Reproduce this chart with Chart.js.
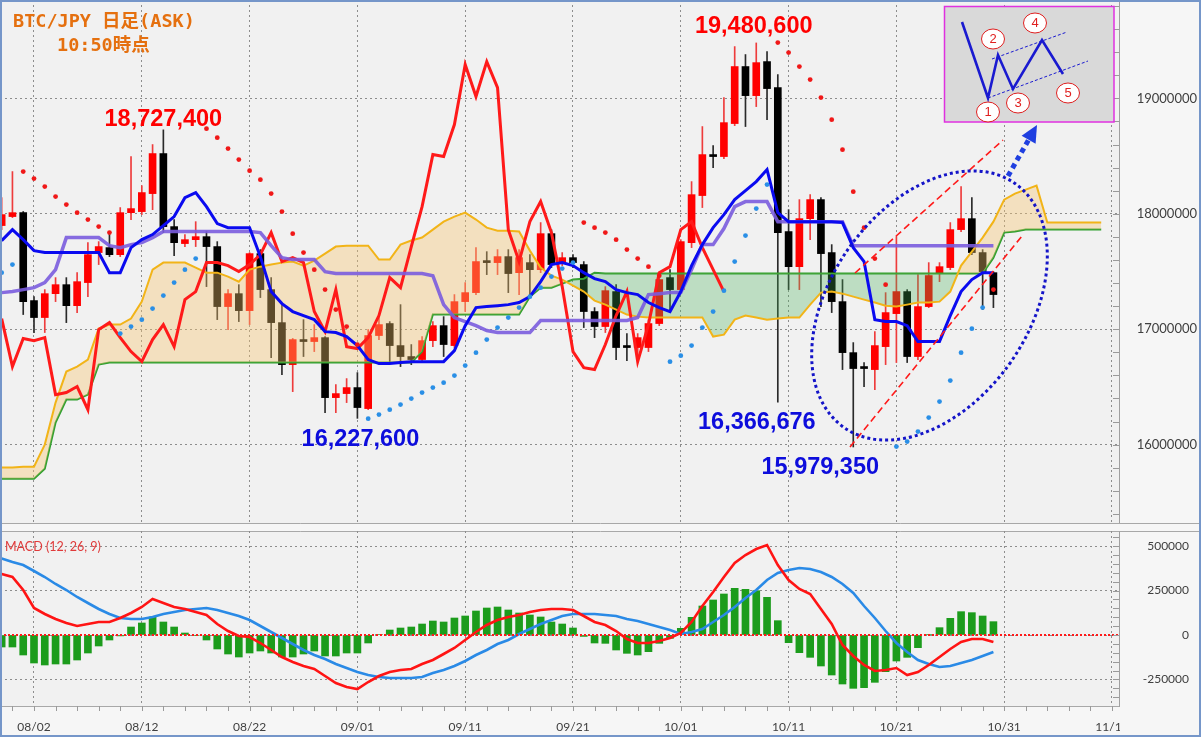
<!DOCTYPE html>
<html lang="ja">
<head>
<meta charset="utf-8">
<title>BTC/JPY 日足(ASK)</title>
<script src="https://cdn.jsdelivr.net/npm/chart.js@4.4.1/dist/chart.umd.min.js"></script>
<style>
  html, body { margin:0; padding:0; background:#f6f6f6; }
  #stage { position:relative; width:1201px; height:737px; overflow:hidden; background:#f6f6f6; }
  #mainCanvas { position:absolute; left:0; top:0; }
  #macdCanvas { position:absolute; left:0; top:531px; }
  #frame { position:absolute; left:0; top:0; width:1197px; height:733px; border:2px solid #7596c9; pointer-events:none; }
</style>
</head>
<body>
<div id="stage">
  <canvas id="mainCanvas" width="1201" height="524"></canvas>
  <canvas id="macdCanvas" width="1201" height="206"></canvas>
  <div id="frame"></div>
</div>
<script>
// ================= DATA =================
const YEAR = 2025;
const dates = [
 '07/30','07/31',
 '08/01','08/02','08/03','08/04','08/05','08/06','08/07','08/08','08/09','08/10','08/11','08/12','08/13','08/14','08/15','08/16',
 '08/17','08/18','08/19','08/20','08/21','08/22','08/23','08/24','08/25','08/26','08/27','08/28','08/29','08/30','08/31',
 '09/01','09/02','09/03','09/04','09/05','09/06','09/07','09/08','09/09','09/10','09/11','09/12','09/13','09/14','09/15',
 '09/16','09/17','09/18','09/19','09/20','09/21','09/22','09/23','09/24','09/25','09/26','09/27','09/28','09/29','09/30',
 '10/01','10/02','10/03','10/04','10/05','10/06','10/07','10/08','10/09','10/10','10/11','10/12','10/13','10/14','10/15',
 '10/16','10/17','10/18','10/19','10/20','10/21','10/22','10/23','10/24','10/25','10/26','10/27','10/28','10/29','10/30'
];
const futureDates = ['10/31','11/01','11/02','11/03','11/04','11/05','11/06','11/07','11/08','11/09'];

const open = [
 17898000,17976000,18010000,17248000,17101000,17308000,17386000,17204000,17404000,17664000,
 17707000,17646000,18010000,18019000,18175000,18522000,17889000,17742000,17776000,17802000,
 17716000,17196000,17308000,17161000,17655000,17343000,17057000,16693000,16910000,16893000,
 16927000,16407000,16442000,16494000,16312000,16945000,17049000,16858000,16763000,16737000,
 16901000,17031000,16858000,17239000,17317000,17586000,17577000,17629000,17490000,17577000,
 17516000,17828000,17577000,17620000,17560000,17153000,17023000,17326000,16849000,16841000,
 16841000,17049000,17447000,17343000,17750000,18158000,18513000,18496000,18782000,19276000,
 19024000,19319000,19094000,17846000,17542000,17958000,18123000,17664000,17239000,16797000,
 16667000,16650000,16849000,17135000,17326000,16763000,17196000,17490000,17534000,17863000,
 17958000,17664000,17490000];
const high = [
 18140000,18366000,18020000,17282000,17343000,17447000,17447000,17490000,17750000,17759000,
 17846000,18054000,18496000,18244000,18600000,18727400,17950000,17820000,17932000,17846000,
 17759000,17343000,17386000,17664000,17690000,17447000,17213000,16920000,17083000,17040000,
 16935000,16520000,16572000,16624000,16997000,17109000,17066000,17213000,16867000,16936000,
 17066000,17109000,17300000,17404000,17707000,17672000,17690000,17690000,17690000,17646000,
 17924000,17863000,17664000,17646000,17586000,17187000,17369000,17386000,16962000,16962000,
 17083000,17473000,17516000,17776000,18279000,18756000,18591000,19007000,19449000,19380000,
 19480600,19406000,19206000,18036000,18123000,18166000,18140000,17733000,17430000,16884000,
 16711000,16979000,17317000,17802000,17343000,17473000,17577000,17577000,17924000,18236000,
 18140000,17690000,17499000];
const low = [
 17863000,17967000,17127000,16971000,16971000,17239000,17057000,17144000,17282000,17560000,
 17629000,17629000,17950000,17993000,18036000,17837000,17638000,17716000,17716000,17369000,
 17083000,16997000,17066000,17040000,17274000,16754000,16607000,16459000,16763000,16806000,
 16277000,16277000,16364000,16227600,16303000,16910000,16719000,16676000,16693000,16711000,
 16849000,16763000,16841000,17153000,17300000,17473000,17473000,17317000,17300000,17300000,
 17490000,17534000,17551000,17534000,17014000,16927000,16971000,16737000,16728000,16737000,
 16806000,17031000,17144000,17326000,17707000,18054000,18400000,18478000,18764000,18756000,
 18929000,18816000,16366676,17343000,17343000,17776000,17196000,17144000,16650000,15979350,
 16503000,16477000,16693000,16711000,16711000,16737000,17187000,17412000,17516000,17846000,
 17646000,17170000,17187000];
const close = [
 17993000,18010000,17239000,17101000,17308000,17386000,17204000,17412000,17646000,17716000,
 17646000,18010000,18045000,18184000,18522000,17889000,17750000,17776000,17802000,17716000,
 17196000,17308000,17161000,17655000,17343000,17057000,16693000,16910000,16893000,16927000,
 16407000,16442000,16494000,16321000,16945000,17040000,16858000,16763000,16737000,16901000,
 17031000,16867000,17239000,17317000,17586000,17577000,17629000,17482000,17620000,17516000,
 17828000,17560000,17620000,17577000,17153000,17023000,17334000,16841000,16841000,16927000,
 17049000,17430000,17343000,17759000,18166000,18513000,18496000,18790000,19276000,19024000,
 19310000,19085000,17837000,17542000,17958000,18123000,17655000,17239000,16797000,16659000,
 16659000,16858000,17144000,17326000,16763000,17196000,17465000,17542000,17863000,17958000,
 17664000,17499000,17300000];

// Ichimoku
const tenkan = [
 17768000,17863000,17776000,17681000,17664000,17664000,17664000,17664000,17664000,17664000,
 17490000,17490000,17707000,17776000,17820000,17898000,17976000,18140000,18184000,18062000,
 17915000,17880000,17880000,17880000,17629000,17326000,17222000,17153000,17118000,17083000,
 16979000,16971000,16936000,16858000,16737000,16702000,16702000,16711000,16719000,16719000,
 16719000,16719000,16815000,17031000,17187000,17196000,17204000,17213000,17231000,17282000,
 17412000,17560000,17577000,17551000,17490000,17438000,17412000,17343000,17317000,17300000,
 17231000,17187000,17153000,17326000,17551000,17733000,17880000,17993000,18123000,18201000,
 18279000,18383000,18010000,17932000,17932000,17932000,17932000,17932000,17924000,17707000,
 17586000,17083000,17066000,17066000,17031000,16893000,16893000,16893000,17118000,17326000,
 17430000,17490000,17490000];
const kijun = [
 17317000,17326000,17343000,17360000,17404000,17516000,17794000,17794000,17794000,17794000,
 17724000,17707000,17733000,17750000,17794000,17846000,17846000,17846000,17846000,17846000,
 17846000,17846000,17846000,17846000,17837000,17724000,17620000,17603000,17603000,17603000,
 17499000,17482000,17482000,17482000,17482000,17482000,17482000,17482000,17482000,17482000,
 17464000,17213000,17101000,17066000,17031000,16988000,16971000,16971000,16971000,16971000,
 17075000,17075000,17075000,17075000,17075000,17075000,17075000,17075000,17075000,17101000,
 17300000,17308000,17317000,17317000,17516000,17733000,17733000,17872000,18062000,18106000,
 18106000,18106000,17932000,17932000,17932000,17932000,17932000,17932000,17932000,17724000,
 17724000,17724000,17724000,17724000,17724000,17724000,17724000,17724000,17724000,17724000,
 17724000,17724000,17724000];
const chikou = [
 17092000,16676000,16919000,16901000,16927000,16433000,16451000,16503000,16303000,16997000,
 17057000,16927000,16806000,16719000,16910000,17040000,16849000,17256000,17326000,17577000,
 17577000,17551000,17499000,17560000,17646000,17837000,17586000,17620000,17577000,17153000,
 16979000,17343000,16849000,16832000,16927000,17118000,17447000,17360000,17716000,18062000,
 18513000,18496000,18773000,19293000,19016000,19319000,19094000,17863000,17586000,17932000,
 18106000,17837000,17369000,16806000,16667000,16650000,16867000,17118000,17326000,16719000,
 17040000,17490000,17542000,17863000,17932000,17707000,17516000,17326000];
const senkouA = [
 15801000,15801000,15809000,15809000,16000000,16364000,16633000,16676000,16737000,17005000,
 17040000,17040000,17092000,17239000,17516000,17577000,17577000,17577000,17534000,17490000,
 17490000,17456000,17412000,17516000,17542000,17560000,17577000,17586000,17551000,17594000,
 17655000,17716000,17724000,17724000,17724000,17603000,17603000,17733000,17768000,17794000,
 17863000,17932000,17976000,18010000,17950000,17880000,17854000,17854000,17846000,17681000,
 17534000,17464000,17430000,17378000,17326000,17248000,17213000,17170000,17127000,17109000,
 17101000,17101000,17101000,17101000,17101000,17101000,16936000,16953000,17083000,17118000,
 17101000,17083000,17092000,17101000,17101000,17213000,17317000,17326000,17308000,17282000,
 17256000,17231000,17204000,17196000,17213000,17231000,17231000,17239000,17326000,17551000,
 17672000,17794000,17932000,18123000,18175000,18210000,18244000,17924000,17924000,17924000,
 17924000,17924000,17924000];
const senkouB = [
 15705000,15705000,15705000,15705000,15792000,16191000,16390000,16390000,16433000,16693000,
 16711000,16711000,16711000,16711000,16711000,16711000,16711000,16711000,16711000,16711000,
 16711000,16711000,16711000,16711000,16711000,16711000,16711000,16711000,16711000,16711000,
 16711000,16711000,16711000,16711000,16711000,16711000,16711000,16711000,16711000,16806000,
 17127000,17127000,17127000,17127000,17127000,17127000,17127000,17127000,17127000,17282000,
 17360000,17360000,17395000,17430000,17438000,17490000,17482000,17482000,17482000,17482000,
 17482000,17482000,17482000,17482000,17482000,17482000,17482000,17482000,17482000,17482000,
 17482000,17482000,17482000,17482000,17482000,17482000,17482000,17482000,17482000,17482000,
 17482000,17482000,17482000,17482000,17482000,17482000,17482000,17482000,17482000,17482000,
 17482000,17482000,17620000,17837000,17846000,17863000,17863000,17863000,17863000,17863000,
 17863000,17863000,17863000];
// Parabolic SAR
const sar = [
 17490000,17560000,18366000,18305000,18236000,18149000,18080000,18010000,17950000,17889000,
 17837000,16962000,17023000,17083000,17179000,17291000,17404000,17516000,17612000,18738000,
 18660000,18565000,18470000,18374000,18296000,18175000,18019000,17828000,17664000,17516000,
 17343000,17170000,17023000,16867000,16225000,16260000,16303000,16347000,16399000,16451000,
 16494000,16537000,16598000,16685000,16797000,16910000,17014000,17101000,17187000,17282000,
 17360000,17456000,17525000,17577000,17924000,17880000,17837000,17776000,17690000,17612000,
 17542000,17464000,16719000,16771000,16858000,17014000,17153000,17334000,17586000,17811000,
 18045000,18253000,19484000,19397000,19276000,19163000,19007000,18816000,18556000,18192000,
 17880000,17612000,17386000,15983000,16026000,16113000,16234000,16373000,16555000,16797000,
 17005000,17187000,17343000];
// MACD (12, 26, 9)
const macd = [
 343500,326600,253400,152000,118200,90100,67600,50700,61900,73200,
 73200,95700,123900,157700,202700,180200,157700,146400,129500,112600,
 61900,22500,-5600,-11300,-45000,-84500,-123900,-152000,-174500,-191400,
 -230900,-270300,-292800,-304100,-264600,-230900,-208300,-197100,-191400,-163300,
 -140800,-107000,-73200,-28200,16900,56300,84500,101400,112600,129500,
 140800,146400,146400,140800,107000,73200,56300,22500,-22500,-45000,
 -45000,-33800,-16900,11300,73200,163300,242100,326600,405400,450500,
 484200,506800,394100,309700,259000,230900,146400,61900,-56300,-118200,
 -168900,-202700,-197100,-185800,-225200,-208300,-168900,-123900,-78800,-39400,
 -22500,-22500,-39400];
const signal = [
 430700,411000,394100,360400,326600,287200,253400,214000,180200,146400,
 118200,95700,90100,90100,101400,118200,129500,140800,146400,152000,
 140800,123900,107000,84500,50700,16900,-16900,-50700,-84500,-112600,
 -135100,-163300,-185800,-208300,-225200,-236500,-242100,-242100,-242100,-236500,
 -214000,-197100,-174500,-146400,-112600,-84500,-50700,-28200,5600,33800,
 61900,84500,107000,118200,118200,118200,112600,107000,90100,78800,
 61900,45000,28200,5600,16900,33800,73200,112600,157700,208300,
 253400,309700,349100,366000,377300,371600,354700,326600,287200,236500,
 163300,95700,22500,-45000,-95700,-140800,-163300,-180200,-174500,-157700,
 -140800,-118200,-95700];
const hist = [
 -67600,-67600,-112600,-157700,-168900,-163300,-163300,-140800,-101400,-61900,
 -28200,-5000,45000,67600,101400,73200,45000,11300,-3000,-28200,
 -78800,-107000,-123900,-101400,-90100,-101400,-123900,-123900,-107000,-90100,
 -118200,-118200,-101400,-101400,-45000,3000,28200,39400,45000,61900,
 78800,73200,95700,107000,135100,152000,157700,140800,123900,112600,
 101400,73200,61900,39400,-8000,-45000,-47000,-84500,-103200,-112600,
 -93800,-47000,-18800,37500,99500,163300,197100,230900,262800,257300,
 249400,212200,80700,-43200,-99500,-125800,-174500,-225200,-275900,-300300,
 -296500,-266500,-206400,-146400,-125800,-71300,3000,41300,93800,131400,
 125800,107000,75100];

// axis tick labels
const tickDates = ['08/02','08/12','08/22','09/01','09/11','09/21','10/01','10/11','10/21','10/31','11/10'];
const priceTicks = [16000000,17000000,18000000,19000000];
const macdTicks = [-250000,0,250000,500000];
// marked extremes
const peakDates = ['08/14','10/08'];
const troughDates = ['09/01','10/10','10/17'];

// ================= HELPERS =================
const BASE = Date.UTC(YEAR, 7, 2);
function dayOf(s){ const [m,d] = s.split('/').map(Number); return Math.round((Date.UTC(YEAR, m-1, d) - BASE) / 86400000); }
const xs = dates.map(dayOf);
const xsAll = dates.concat(futureDates).map(dayOf);
const pts = (arr, xArr) => arr.map((v, i) => ({ x: xArr[i], y: v }));
const up = i => close[i] >= open[i];

const X_MIN = -3.154, X_MAX = 100.65;
const MAIN_MIN = 15312000, MAIN_MAX = 19852700;
const MACD_MIN = -399770, MACD_MAX = 585580;
const noPad = s => { s.paddingTop = 0; s.paddingBottom = 0; s.paddingLeft = 0; s.paddingRight = 0; };

function xScale(showLabels) {
  return {
    type: 'linear', min: X_MIN, max: X_MAX, offset: false,
    afterBuildTicks: s => { s.ticks = tickDates.map(t => ({ value: dayOf(t) })); },
    afterFit: s => { s.height = showLabels ? 31 : 0; noPad(s); },
    grid: { color: '#8d8d8d', lineWidth: 1, drawTicks: false, offset: false },
    border: { display: showLabels, color: '#a8a8a8', dash: [2, 3] },
    ticks: showLabels ? {
      autoSkip: false, maxRotation: 0, padding: 14, color: '#404040',
      font: { family: 'Lato', size: 12 },
      callback: (v, i) => tickDates[i]
    } : { display: false }
  };
}

// ================= MAIN CHART =================
const mainDeco = {
  id: 'mainDeco',
  beforeDraw(chart) {
    const { ctx, chartArea: a } = chart;
    ctx.save();
    ctx.fillStyle = '#f6f6f6'; ctx.fillRect(0, 0, chart.width, chart.height);
    ctx.fillStyle = '#f1f1f1'; ctx.fillRect(a.left, a.top, a.right - a.left, a.bottom - a.top);
    ctx.restore();
  },
  afterDraw(chart) {
    const { ctx, chartArea: a, scales } = chart;
    const X = scales.x, Y = scales.y;
    ctx.save();
    // minor ticks on price axis
    ctx.strokeStyle = '#9a9a9a'; ctx.lineWidth = 1;
    for (let v = Math.ceil(Y.min / 200000) * 200000; v <= Y.max; v += 200000) {
      const y = Math.round(Y.getPixelForValue(v)) + 0.5;
      ctx.beginPath(); ctx.moveTo(a.right - 6, y); ctx.lineTo(a.right, y); ctx.stroke();
    }
    // bottom border of the panel
    ctx.strokeStyle = '#a8a8a8';
    ctx.beginPath(); ctx.moveTo(0, a.bottom - 0.5); ctx.lineTo(chart.width, a.bottom - 0.5); ctx.stroke();

    // title
    ctx.fillStyle = '#e5700f';
    ctx.font = 'bold 18.5px "DejaVu Sans Mono", "Noto Sans CJK JP", monospace';
    ctx.textAlign = 'left'; ctx.textBaseline = 'alphabetic';
    ctx.fillText('BTC/JPY 日足(ASK)', 13, 27);
    ctx.fillText('10:50時点', 57, 51);

    // extreme value labels
    const fmt = v => v.toLocaleString('en-US');
    ctx.font = 'bold 23.5px "Liberation Sans", Arial, sans-serif';
    ctx.textAlign = 'center';
    const peakOff = [[0, -4], [-2.5, -10]];
    peakDates.forEach((d, k) => {
      const i = dates.indexOf(d);
      ctx.fillStyle = '#ff0000';
      ctx.fillText(fmt(high[i]), X.getPixelForValue(xs[i]) + peakOff[k][0], Y.getPixelForValue(high[i]) + peakOff[k][1]);
    });
    const troughOff = [[3, 28], [-21, 27], [-33, 27]];
    troughDates.forEach((d, k) => {
      const i = dates.indexOf(d);
      ctx.fillStyle = '#0d0ddc';
      ctx.fillText(fmt(low[i]), X.getPixelForValue(xs[i]) + troughOff[k][0], Y.getPixelForValue(low[i]) + troughOff[k][1]);
    });

    // red dashed channel
    ctx.strokeStyle = '#ff1a1a'; ctx.lineWidth = 1.6; ctx.setLineDash([7, 4]);
    ctx.beginPath(); ctx.moveTo(855, 273); ctx.lineTo(1003, 140); ctx.stroke();
    ctx.beginPath(); ctx.moveTo(850, 447); ctx.lineTo(1022, 236); ctx.stroke();

    // dotted ellipse
    ctx.strokeStyle = '#1414c8'; ctx.lineWidth = 3; ctx.setLineDash([3, 3]);
    ctx.beginPath(); ctx.ellipse(929.5, 305.5, 99, 149, 35 * Math.PI / 180, 0, Math.PI * 2); ctx.stroke();

    // dotted arrow
    ctx.strokeStyle = '#1f3fe0'; ctx.fillStyle = '#1f3fe0'; ctx.lineWidth = 5; ctx.setLineDash([5, 4]);
    ctx.beginPath(); ctx.moveTo(1008, 176); ctx.lineTo(1028.6, 139.8); ctx.stroke();
    ctx.setLineDash([]);
    ctx.beginPath(); ctx.moveTo(1037, 125); ctx.lineTo(1035.6, 143.8); ctx.lineTo(1021.6, 135.8); ctx.closePath(); ctx.fill();

    // inset pattern box
    ctx.fillStyle = '#d9d9d9'; ctx.fillRect(944, 6, 170, 116);
    ctx.strokeStyle = '#e030e0'; ctx.lineWidth = 1.5; ctx.strokeRect(944.5, 6.5, 169.5, 115.5);
    ctx.strokeStyle = '#1a1ad0'; ctx.lineWidth = 1; ctx.setLineDash([3, 2]);
    ctx.beginPath(); ctx.moveTo(992, 59); ctx.lineTo(1067, 32); ctx.stroke();
    ctx.beginPath(); ctx.moveTo(988, 98); ctx.lineTo(1088, 61); ctx.stroke();
    ctx.setLineDash([]);
    ctx.lineWidth = 2.6; ctx.lineJoin = 'miter';
    ctx.beginPath();
    [[962,22],[988,98],[998,55],[1013,89],[1042,40],[1063,74]].forEach((p, k) => k ? ctx.lineTo(p[0], p[1]) : ctx.moveTo(p[0], p[1]));
    ctx.stroke();
    const circ = [['1',988,112],['2',993,39],['3',1018,103],['4',1035,23],['5',1068,93]];
    ctx.font = '13px "Liberation Sans", Arial, sans-serif';
    ctx.textAlign = 'center'; ctx.textBaseline = 'middle';
    circ.forEach(([t, cx, cy]) => {
      ctx.fillStyle = '#ffffff'; ctx.strokeStyle = '#e02020'; ctx.lineWidth = 1;
      ctx.beginPath(); ctx.ellipse(cx, cy, 11.5, 10, 0, 0, Math.PI * 2); ctx.fill(); ctx.stroke();
      ctx.fillStyle = '#e02020'; ctx.fillText(t, cx, cy + 0.5);
    });
    ctx.restore();
  }
};

new Chart(document.getElementById('mainCanvas'), {
  type: 'bar',
  data: {
    datasets: [
      { type: 'line', label: 'SAR', data: pts(sar, xs), showLine: false, order: 0,
        pointRadius: 2.4, pointBorderWidth: 0,
        pointBackgroundColor: sar.map((v, i) => v > close[i] ? '#f01818' : '#2a8fe6') },
      { type: 'line', label: '転換線', data: pts(tenkan, xs), borderColor: '#0a0af0', borderWidth: 3, pointRadius: 0, order: 1 },
      { type: 'line', label: '基準線', data: pts(kijun, xs), borderColor: 'rgba(122,92,222,0.9)', borderWidth: 3.5, pointRadius: 0, order: 1 },
      { type: 'line', label: '遅行スパン', data: pts(chikou, xs), borderColor: '#ff1a1a', borderWidth: 3, pointRadius: 0, order: 1 },
      { type: 'line', label: '先行スパン1', data: pts(senkouA, xsAll), borderColor: '#f2b418', borderWidth: 2, pointRadius: 0, order: 2,
        fill: { target: '+1', above: 'rgba(246,196,110,0.38)', below: 'rgba(70,175,85,0.30)' } },
      { type: 'line', label: '先行スパン2', data: pts(senkouB, xsAll), borderColor: '#2f9f2f', borderWidth: 2, pointRadius: 0, order: 2, fill: false },
      { type: 'bar', label: 'body', data: xs.map((x, i) => ({ x, y: [open[i], close[i]] })), order: 5,
        grouped: false, barThickness: 7, minBarLength: 2, borderWidth: 0,
        backgroundColor: xs.map((x, i) => up(i) ? '#ff0000' : '#000000') },
      { type: 'bar', label: 'wick', data: xs.map((x, i) => ({ x, y: [low[i], high[i]] })), order: 6,
        grouped: false, barThickness: 1, borderWidth: 0,
        backgroundColor: xs.map((x, i) => up(i) ? '#ee3c3c' : '#2a2a2a') }
    ]
  },
  options: {
    responsive: false, animation: false, events: [], devicePixelRatio: 1,
    layout: { padding: { left: 0, top: 0, bottom: 0, right: 4 }, autoPadding: false },
    plugins: { legend: { display: false }, tooltip: { enabled: false } },
    scales: {
      x: xScale(false),
      y: {
        position: 'right', min: MAIN_MIN, max: MAIN_MAX,
        afterFit: s => { s.width = 78; noPad(s); },
        afterBuildTicks: s => { s.ticks = priceTicks.map(v => ({ value: v })); },
        grid: { color: '#8d8d8d', lineWidth: 1, drawTicks: false },
        border: { display: true, color: '#a0a0a0', dash: [2, 3] },
        ticks: { color: '#404040', font: { family: 'Lato', size: 13 }, padding: 16, crossAlign: 'far', callback: v => String(v) }
      }
    }
  },
  plugins: [mainDeco]
});

// ================= MACD CHART =================
const macdDeco = {
  id: 'macdDeco',
  beforeDraw(chart) {
    const { ctx, chartArea: a } = chart;
    ctx.save();
    ctx.fillStyle = '#f6f6f6'; ctx.fillRect(0, 0, chart.width, chart.height);
    ctx.fillStyle = '#f1f1f1'; ctx.fillRect(a.left, a.top, a.right - a.left, a.bottom - a.top);
    ctx.strokeStyle = '#a8a8a8'; ctx.lineWidth = 1;
    ctx.beginPath(); ctx.moveTo(0, a.top + 0.5); ctx.lineTo(chart.width, a.top + 0.5); ctx.stroke();
    ctx.restore();
  },
  afterDatasetsDraw(chart) {
    const { ctx, chartArea: a, scales } = chart;
    const y0 = Math.round(scales.y.getPixelForValue(0));
    ctx.save();
    ctx.strokeStyle = '#ff1a1a'; ctx.lineWidth = 2; ctx.setLineDash([2, 2]);
    ctx.beginPath(); ctx.moveTo(a.left, y0); ctx.lineTo(a.right, y0); ctx.stroke();
    ctx.restore();
  },
  afterDraw(chart) {
    const { ctx, chartArea: a, scales } = chart;
    const X = scales.x, Y = scales.y;
    ctx.save();
    // clip area right of plot below axis
    ctx.fillStyle = '#f6f6f6'; ctx.fillRect(a.right + 1, a.bottom + 1, chart.width - a.right, chart.height - a.bottom);
    // minor ticks on MACD axis
    ctx.strokeStyle = '#9a9a9a'; ctx.lineWidth = 1;
    for (let v = Math.ceil(Y.min / 50000) * 50000; v <= Y.max; v += 50000) {
      const y = Math.round(Y.getPixelForValue(v)) + 0.5;
      ctx.beginPath(); ctx.moveTo(a.right - 6, y); ctx.lineTo(a.right, y); ctx.stroke();
    }
    // small ticks on time axis (every 2 days)
    for (let d = Math.ceil(X.min / 2) * 2; d <= X.max; d += 2) {
      const x = Math.round(X.getPixelForValue(d)) + 0.5;
      ctx.beginPath(); ctx.moveTo(x, a.bottom); ctx.lineTo(x, a.bottom + 5); ctx.stroke();
    }
    // label
    ctx.fillStyle = '#e03a3a';
    ctx.font = '12.5px Lato, sans-serif';
    ctx.textAlign = 'left'; ctx.textBaseline = 'middle';
    ctx.fillText('MACD (12, 26, 9)', 5, 16);
    ctx.restore();
  }
};

new Chart(document.getElementById('macdCanvas'), {
  type: 'bar',
  data: {
    datasets: [
      { type: 'line', label: 'MACD', data: pts(macd, xs), borderColor: '#ff1414', borderWidth: 2.6, pointRadius: 0, order: 0 },
      { type: 'line', label: 'シグナル', data: pts(signal, xs), borderColor: '#2a8ae6', borderWidth: 2.6, pointRadius: 0, order: 0 },
      { type: 'bar', label: 'ヒストグラム', data: pts(hist, xs), order: 1, grouped: false, barThickness: 7,
        backgroundColor: '#1c9c1c', borderWidth: 0 }
    ]
  },
  options: {
    responsive: false, animation: false, events: [], devicePixelRatio: 1,
    layout: { padding: { left: 0, top: 0, bottom: 0, right: 12 }, autoPadding: false },
    plugins: { legend: { display: false }, tooltip: { enabled: false } },
    scales: {
      x: xScale(true),
      y: {
        position: 'right', min: MACD_MIN, max: MACD_MAX,
        afterFit: s => { s.width = 70; noPad(s); },
        afterBuildTicks: s => { s.ticks = macdTicks.map(v => ({ value: v })); },
        grid: { color: '#8d8d8d', lineWidth: 1, drawTicks: false },
        border: { display: true, color: '#a0a0a0', dash: [2, 3] },
        ticks: { color: '#404040', font: { family: 'Lato', size: 12 }, padding: 16, crossAlign: 'far', callback: v => String(v) }
      }
    }
  },
  plugins: [macdDeco]
});
</script>
</body>
</html>
